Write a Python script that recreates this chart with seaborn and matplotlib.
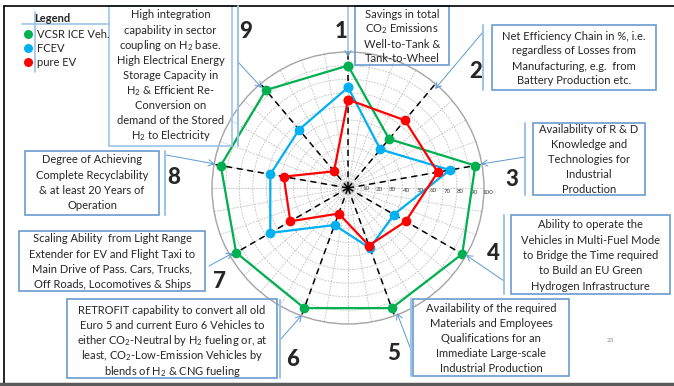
import numpy as np
import pandas as pd
import seaborn as sns
import matplotlib.pyplot as plt
from matplotlib.lines import Line2D
from matplotlib.patches import Rectangle, FancyArrowPatch, Circle

sns.set_style("white")
plt.rcParams["font.family"] = ["Lato", "DejaVu Sans"]
plt.rcParams["mathtext.fontset"] = "custom"
plt.rcParams["mathtext.rm"] = "Lato"
plt.rcParams["mathtext.it"] = "Lato:italic"
plt.rcParams["mathtext.bf"] = "Lato:bold"

# ---- data -------------------------------------------------------------
criteria = ["1", "2", "3", "4", "5", "6", "7", "8", "9"]
vcsr_ice = [90, 47, 95, 97, 94, 94, 95, 95, 94]
fcev = [74, 37, 76, 39, 47, 29, 66, 58, 56]
pure_ev = [65, 65, 67, 49, 45, 20, 49, 48, 16]
series_names = ["VCSR ICE Veh.", "FCEV", "pure EV"]
series_colors = ["#00B050", "#00B0F0", "#FF0000"]
radial_ticks = [10, 20, 30, 40, 50, 60, 70, 80, 90, 100]

W, H = 674, 386
fig = plt.figure(figsize=(W / 100, H / 100), dpi=100)


def fx(x):
    return x / W


def fy(y):
    return 1 - y / H


# ---- radar axes -------------------------------------------------------
cx, cy, R = 348, 188, 136
ax = fig.add_axes([fx(cx - R), fy(cy + R), 2 * R / W, 2 * R / H], projection="polar")
ax.set_theta_zero_location("N")
ax.set_theta_direction(-1)
ax.set_ylim(0, 100)
ax.set_thetagrids(np.arange(0, 360, 10), labels=[""] * 36)
ax.set_rgrids(radial_ticks, labels=[""] * len(radial_ticks))
ax.grid(True, color="#bdbdbd", linestyle=(0, (2, 1.5)), linewidth=0.6)
ax.spines["polar"].set_color("#a6a6a6")
ax.spines["polar"].set_linewidth(1.0)
ax.patch.set_alpha(0)

n = len(criteria)
angles = np.deg2rad(np.arange(n) * 360.0 / n)

# black dashed axis spokes
for a in angles:
    ax.plot([a, a], [0, 100], color="black", linestyle=(0, (4, 3)), linewidth=1.1, zorder=2)
ax.add_artist(Circle((0, 0), 5, transform=ax.transData._b, color="#c8c8c8", zorder=1))

# radial value labels
for v in radial_ticks:
    ax.text(np.deg2rad(92), v + 3, str(v), fontsize=4.5, color="#404040",
            ha="center", va="center", zorder=3)

theta_closed = np.append(angles, 2 * np.pi)
order = [0, 2, 1]
all_vals = [vcsr_ice, fcev, pure_ev]
for i in order:
    vals = all_vals[i]
    df = pd.DataFrame({"theta": theta_closed, "r": vals + vals[:1]})
    sns.lineplot(data=df, x="theta", y="r", ax=ax, sort=False, estimator=None,
                 color=series_colors[i], linewidth=1.6, marker="o", markersize=7,
                 markeredgewidth=0, zorder=4 + i)
ax.set_xlabel("")
ax.set_ylabel("")

# ---- slide frame --------------------------------------------------------
fig.add_artist(Line2D([fx(4), fx(674)], [fy(6), fy(6)], color="black", linewidth=1.2))
fig.add_artist(Line2D([fx(4), fx(4)], [fy(6), fy(383)], color="black", linewidth=1.2))
fig.add_artist(Line2D([fx(0), fx(674)], [fy(383.5), fy(383.5)], color="#595959", linewidth=2.5))
fig.text(fx(610), fy(340), "23", fontsize=4.5, color="#8c8c8c", ha="center", va="center")

# ---- legend -------------------------------------------------------------
lb = "#9DC3E6"
fig.add_artist(Line2D([fx(22), fx(109)], [fy(24), fy(24)], color=lb, linewidth=1.2))
fig.add_artist(Line2D([fx(35), fx(35)], [fy(12), fy(72)], color=lb, linewidth=1.2))
fig.text(fx(52), fy(18), "Legend", fontsize=8, fontweight="bold", ha="center", va="center")
for name, col, yy in zip(series_names, series_colors, [34, 48, 62]):
    fig.add_artist(Line2D([fx(28)], [fy(yy)], marker="o", markersize=6.5,
                          markeredgewidth=0, color=col))
    fig.text(fx(37), fy(yy), name, fontsize=8, ha="left", va="center")

# ---- criterion boxes ----------------------------------------------------
box_col = "#6A9BD1"
fs = 8


def box(x0, y0, x1, y1, lines, y_first, step, color=box_col):
    fig.add_artist(Rectangle((fx(x0), fy(y1)), (x1 - x0) / W, (y1 - y0) / H,
                             fill=False, edgecolor=color, linewidth=1.2))
    xc = (x0 + x1) / 2
    for k, t in enumerate(lines):
        fig.text(fx(xc), fy(y_first + k * step), t, fontsize=fs, ha="center", va="center")


def vline(x, y0, y1):
    fig.add_artist(Line2D([fx(x), fx(x)], [fy(y0), fy(y1)], color=lb, linewidth=1.4))


def arrow(x0, y0, x1, y1):
    fig.add_artist(FancyArrowPatch((fx(x0), fy(y0)), (fx(x1), fy(y1)),
                                   transform=fig.transFigure, arrowstyle="->,head_length=4,head_width=2.2",
                                   color="#5B9BD5", linewidth=0.7, shrinkA=0, shrinkB=0))


def number(x, y, t):
    fig.text(fx(x), fy(y), t, fontsize=16, fontweight="black", ha="center", va="center")


box(109, 6, 232, 146,
    ["High integration", "capability in sector", r"coupling on H$_2$ base.",
     "High Electrical Energy", "Storage Capacity in", r"H$_2$ & Efficient Re-",
     "Conversion on", "demand of the Stored", r"H$_2$ to Electricity"], 15, 15.1, color=lb)
vline(238, 6, 146)
number(246, 31, "9")
arrow(238, 62, 262, 88)

box(355, 6, 449, 65,
    ["Savings in total", r"CO$_2$ Emissions", "Well-to-Tank &", "Tank-to-Wheel"], 14, 15)
number(341, 32, "1")
arrow(348, 6, 348, 57)

box(492, 25, 656, 90,
    ["Net Efficiency Chain in %, i.e.", "regardless of Losses from",
     "Manufacturing, e.g.  from", "Battery Production etc."], 36, 15)
vline(483, 25, 90)
number(476, 72, "2")
arrow(483, 32, 435, 89)

box(533, 123, 645, 195,
    ["Availability of R & D", "Knowledge and", "Technologies for",
     "Industrial", "Production"], 129, 15.2)
vline(525, 123, 195)
number(512, 180, "3")
arrow(525, 157, 481, 164)

box(511, 215, 670, 294,
    ["Ability to operate the", "Vehicles in Multi-Fuel Mode",
     "to Bridge the Time required", "to Build an EU Green",
     "Hydrogen Infrastructure"], 225, 15.3)
vline(504, 215, 294)
number(493, 253, "4")
arrow(504, 281, 466, 255)

box(413, 299, 569, 376,
    ["Availability of the required", "Materials and Employees",
     "Qualifications for an", "Immediate Large-scale",
     "Industrial Production"], 308, 15.2)
vline(411, 299, 376)
number(394, 354, "5")
arrow(411, 350, 397, 313)

box(67, 299, 277, 378,
    ["RETROFIT capability to convert all old", "Euro 5 and current Euro 6 Vehicles to",
     r"either CO$_2$-Neutral by H$_2$ fueling or, at",
     r"least, CO$_2$-Low-Emission Vehicles by", r"blends of H$_2$ & CNG fueling"], 310, 15.3)
vline(280, 300, 378)
number(293, 360, "6")
arrow(280, 340, 302, 315)

box(19, 231, 205, 291,
    ["Scaling Ability  from Light Range", "Extender for EV and Flight Taxi to",
     "Main Drive of Pass. Cars, Trucks,", "Off Roads, Locomotives & Ships"], 239, 15)
number(219, 282, "7")
arrow(209, 266, 233, 253)

box(25, 151, 159, 215,
    ["Degree of Achieving", "Complete Recyclability",
     "& at least 20 Years of", "Operation"], 160, 15.3)
vline(165, 151, 215)
number(174, 178, "8")
arrow(166, 155, 215, 164)

fig.savefig("out.png", dpi=100)
